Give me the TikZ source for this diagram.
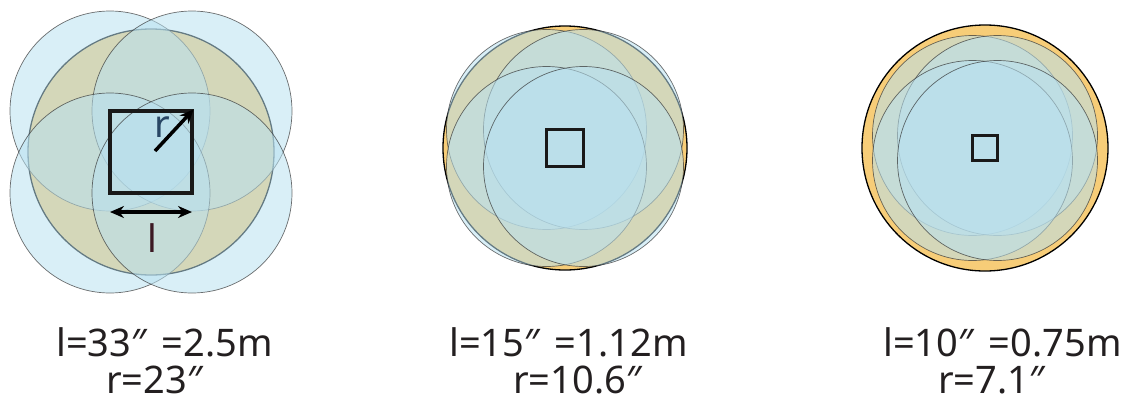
\documentclass[tikz,border=0pt]{standalone}
\usepackage{fontspec}
\setmainfont{Noto Sans}
\usetikzlibrary{arrows.meta,calc}
\definecolor{ylw}{RGB}{247,205,120}
\definecolor{bluefill}{RGB}{185,225,240}
\definecolor{txt}{RGB}{35,31,32}
\definecolor{rcol}{RGB}{40,70,100}
\definecolor{lcol}{RGB}{60,25,35}
\tikzset{
  bigc/.style={fill=ylw, draw=black, line width=1.3pt},
  bluec/.style={fill=bluefill, fill opacity=0.55, draw=black!80, draw opacity=0.7, line width=0.7pt},
  sqbox/.style={draw=black!90, line width=#1, inner sep=0pt, fill=none},
  dimarrow/.style={line width=3.5pt, -{Stealth[length=14pt,width=12pt]}},
  lab/.style={text=txt, font=\fontsize{38}{40}\selectfont, inner sep=0pt, anchor=base west},
  sym/.style={font=\fontsize{38}{40}\selectfont, inner sep=0pt}
}
\newcommand{\dprime}{″}
\newcommand{\twolines}[3]{\def\arraystretch{0.85}\begin{tabular}[t]{@{}l@{}}#1\\\hspace*{#2}#3\end{tabular}}
\begin{document}
\begin{tikzpicture}[x=1pt,y=-1pt]
\useasboundingbox (0,0) rectangle (1128,405);
% ---------- group 1 ----------
\coordinate (g1) at (151,152);
\path[bigc] (g1) circle (123);
\foreach \dx/\dy in {-41/-41,41/-41,-41/41,41/41}
  \path[bluec] ($(g1)+(\dx,\dy)$) circle (100);
\node[sqbox=3.3pt, minimum size=82pt] (sq1) at (g1) {};
\coordinate (r1s) at (155,151);
\draw[dimarrow] (r1s) -- (sq1.north east);
\node[sym, text=rcol] (rlab) at (162,127) {r};
\coordinate (la) at (110,212);
\coordinate (lb) at (192,212);
\draw[dimarrow, {Stealth[length=14pt,width=12pt]}-{Stealth[length=14pt,width=12pt]}] (la) -- (lb);
\node[sym, text=lcol] (llab) at (152,238) {l};
\node[lab] (t1) at (56,356) {\twolines{l=33\dprime\hspace{0.4em}=2.5m}{50pt}{r=23\dprime}};
% ---------- group 2 ----------
\coordinate (g2) at (565,148);
\path[bigc] (g2) circle (122);
\foreach \dx/\dy in {-18.5/-18.5,18.5/-18.5,-18.5/18.5,18.5/18.5}
  \path[bluec] ($(g2)+(\dx,\dy)$) circle (100);
\node[sqbox=2.8pt, minimum size=37pt] (sq2) at (g2) {};
\node[lab] (t2) at (449,356) {\twolines{l=15\dprime\hspace{0.4em}=1.12m}{64pt}{r=10.6\dprime}};
% ---------- group 3 ----------
\coordinate (g3) at (985,148);
\path[bigc] (g3) circle (123);
\foreach \dx/\dy in {-12.5/-12.5,12.5/-12.5,-12.5/12.5,12.5/12.5}
  \path[bluec] ($(g3)+(\dx,\dy)$) circle (100);
\node[sqbox=2.8pt, minimum size=25pt] (sq3) at (g3) {};
\node[lab] (t3) at (883,356) {\twolines{l=10\dprime\hspace{0.4em}=0.75m}{55pt}{r=7.1\dprime}};
\end{tikzpicture}
\end{document}
